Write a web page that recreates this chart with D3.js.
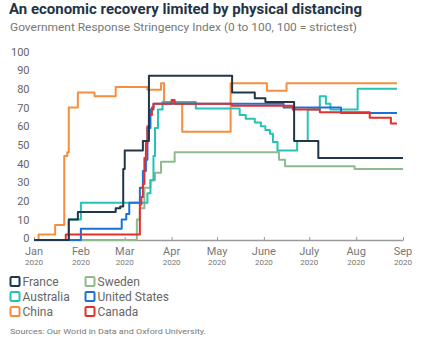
<!DOCTYPE html>
<html>
<head>
<meta charset="utf-8">
<script src="https://cdn.jsdelivr.net/npm/d3@7"></script>
<style>
  body { margin: 0; background: #fff; }
  svg { display: block; font-family: Roboto, "Noto Sans", sans-serif; }
</style>
</head>
<body>
<svg width="425" height="351"></svg>
<script>
// step series: [date, value], last point marks where the line ends
const france = [["2020-01-01",0],["2020-01-24",11],["2020-01-30",15],["2020-02-24",17],["2020-02-27",18],["2020-02-29",38],["2020-03-01",48],["2020-03-13",53],["2020-03-17",88],["2020-05-11",79],["2020-05-26",76],["2020-06-02",74],["2020-06-21",53],["2020-07-07",44],["2020-09-01",44]];
const australia = [["2020-01-01",0],["2020-01-24",11],["2020-02-01",20],["2020-03-16",25],["2020-03-18",32],["2020-03-20",45],["2020-03-21",60],["2020-03-23",70],["2020-03-26",74],["2020-04-17",70.5],["2020-05-16",67],["2020-05-20",65],["2020-05-26",63],["2020-05-30",61],["2020-06-02",59],["2020-06-05",57],["2020-06-07",52.5],["2020-06-10",48],["2020-06-23",53],["2020-06-30",70],["2020-07-08",77],["2020-07-12",73],["2020-07-15",70],["2020-08-02",81],["2020-08-28",81]];
const china = [["2020-01-01",0],["2020-01-04",3],["2020-01-15",8],["2020-01-21",45],["2020-01-23",47],["2020-01-24",71],["2020-01-30",79],["2020-02-10",77],["2020-02-24",82],["2020-03-16",80.5],["2020-03-25",84],["2020-03-27",74],["2020-04-08",58],["2020-05-10",84],["2020-06-03",80],["2020-06-16",84],["2020-08-28",84]];
const sweden = [["2020-01-01",0],["2020-03-09",11],["2020-03-11",17],["2020-03-14",28],["2020-03-18",32],["2020-03-21",36],["2020-03-25",42],["2020-04-03",47],["2020-06-11",43],["2020-06-15",39.5],["2020-07-31",38],["2020-09-01",38]];
const unitedStates = [["2020-01-01",0],["2020-02-01",6],["2020-02-28",11],["2020-03-02",14],["2020-03-04",20],["2020-03-11",28],["2020-03-13",37],["2020-03-15",43],["2020-03-16",60],["2020-03-18",70],["2020-03-20",73],["2020-06-14",71],["2020-07-22",68],["2020-08-28",68]];
const canada = [["2020-01-01",0],["2020-01-22",3],["2020-03-11",19],["2020-03-12",23],["2020-03-13",30],["2020-03-14",44],["2020-03-15",52],["2020-03-16",61],["2020-03-17",67],["2020-03-19",71],["2020-03-20",73],["2020-04-01",75],["2020-04-03",73],["2020-05-11",72],["2020-06-20",70],["2020-07-08",68.5],["2020-08-10",65.5],["2020-08-24",62.5],["2020-08-28",62.5]];

const seriesNames = ["France","Australia","China","Sweden","United States","Canada"];
const seriesData = [france, australia, china, sweden, unitedStates, canada];
const colors = ["#1f364b","#27c2b5","#f68d3f","#8fba8d","#1c70dc","#e2302e"];
const drawOrder = [3, 2, 1, 4, 5, 0]; // sweden at the back
const yTicks = [0,10,20,30,40,50,60,70,80,90,100];
const monthLabels = ["Jan","Feb","Mar","Apr","May","June","July","Aug","Sep"];

const svg = d3.select("svg");
const parse = d3.timeParse("%Y-%m-%d");

const x = d3.scaleTime()
  .domain([new Date(2020,0,1), new Date(2020,8,1)])
  .range([34, 403]);
const y = d3.scaleLinear().domain([0,100]).range([240, 53.4]);

// titles (source image is a bit wider than tall, so stretch text to its width)
svg.append("text").attr("x", 9).attr("y", 14)
  .style("font-size", "14px").style("font-weight", "bold").attr("fill", "#1f3447")
  .attr("textLength", 353).attr("lengthAdjust", "spacingAndGlyphs")
  .text("An economic recovery limited by physical distancing");
svg.append("text").attr("x", 10).attr("y", 31)
  .style("font-size", "11px").attr("fill", "#777")
  .attr("textLength", 347).attr("lengthAdjust", "spacingAndGlyphs")
  .text("Government Response Stringency Index (0 to 100, 100 = strictest)");

// y labels
svg.append("g").selectAll("text").data(yTicks).join("text")
  .attr("x", 29.5).attr("y", d => y(d) - 1.5)
  .attr("dy", "0.35em").attr("text-anchor", "end")
  .style("font-size", "11px").attr("fill", "#666")
  .text(d => d);

// x axis
const months = d3.range(9).map(i => new Date(2020, i, 1));
const xAxis = d3.axisBottom(x).tickValues(months).tickSize(0).tickFormat("");
const ax = svg.append("g").attr("transform", "translate(0,240)").call(xAxis);
ax.select(".domain").attr("stroke", "#9a9a9a").attr("stroke-width", 1.5);
ax.selectAll(".tick").append("line").attr("y1", 0).attr("y2", -3).attr("stroke", "#9a9a9a");

const xl = svg.append("g").selectAll("g").data(months).join("g")
  .attr("transform", d => `translate(${x(d)},0)`);
xl.append("text").attr("y", 254.5).attr("text-anchor", "middle")
  .style("font-size", "11px").attr("fill", "#777")
  .text((d, i) => monthLabels[i]);
xl.append("text").attr("y", 265).attr("text-anchor", "middle")
  .style("font-size", "8px").attr("fill", "#777")
  .text("2020");

// lines
const line = d3.line()
  .x(d => x(parse(d[0])))
  .y(d => y(d[1]))
  .curve(d3.curveStepAfter);

svg.append("g").selectAll("path").data(drawOrder).join("path")
  .attr("d", i => line(seriesData[i]))
  .attr("fill", "none")
  .attr("stroke", i => colors[i])
  .attr("stroke-width", 2)
  .attr("stroke-linejoin", "round");

// legend: two columns of three
const leg = svg.append("g").selectAll("g").data(seriesNames).join("g")
  .attr("transform", (d, i) => `translate(${i < 3 ? 10.5 : 85.5},${281.5 + (i % 3) * 15})`);
leg.append("rect").attr("x", 0).attr("y", -4.5).attr("width", 9).attr("height", 9)
  .attr("rx", 1).attr("fill", "#fff")
  .attr("stroke", (d, i) => colors[i]).attr("stroke-width", 2);
leg.append("text").attr("x", 12).attr("y", 0).attr("dy", "0.35em")
  .style("font-size", "12px").attr("fill", "#666")
  .text(d => d);

svg.append("text").attr("x", 10).attr("y", 334)
  .style("font-size", "8px").attr("fill", "#777")
  .attr("textLength", 196).attr("lengthAdjust", "spacingAndGlyphs")
  .text("Sources: Our World in Data and Oxford University.");
</script>
</body>
</html>
